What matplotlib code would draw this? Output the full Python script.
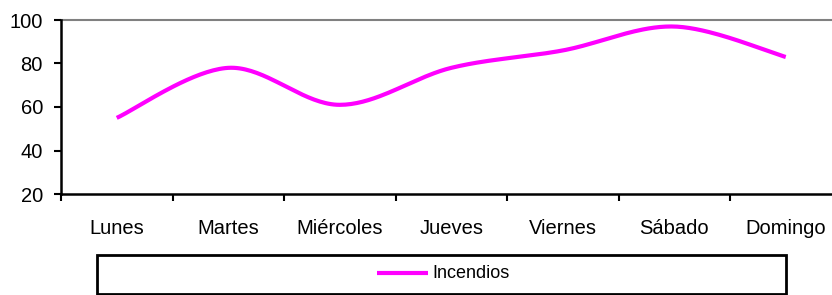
import matplotlib
matplotlib.use("Agg")
import matplotlib.pyplot as plt
from matplotlib.patches import Rectangle
from matplotlib.lines import Line2D
import numpy as np

dias = ["Lunes", "Martes", "Miércoles", "Jueves", "Viernes", "Sábado", "Domingo"]
incendios = [55, 78, 61, 78, 86, 97, 83]
y_ticks = [20, 40, 60, 80, 100]
serie = "Incendios"

plt.rcParams['font.family'] = ['Liberation Sans', 'DejaVu Sans']

W, H = 832, 295
fig = plt.figure(figsize=(W / 100, H / 100), dpi=100)
ax_left, ax_bottom_px, ax_top_px = 61, 194, 20
cat_w = 111.5
ax = fig.add_axes([ax_left / W, (H - ax_bottom_px) / H,
                   cat_w * len(dias) / W, (ax_bottom_px - ax_top_px) / H])


def smooth(xs, ys, n=40):
    pts = np.column_stack([xs, ys]).astype(float)
    ext = np.vstack([pts[0], pts, pts[-1]])
    out = []
    for i in range(len(pts) - 1):
        p0, p1, p2, p3 = ext[i], ext[i + 1], ext[i + 2], ext[i + 3]
        c1 = p1 + (p2 - p0) / 6
        c2 = p2 - (p3 - p1) / 6
        t = np.linspace(0, 1, n)[:, None]
        seg = ((1 - t) ** 3) * p1 + 3 * ((1 - t) ** 2) * t * c1 + 3 * (1 - t) * t ** 2 * c2 + t ** 3 * p2
        out.append(seg if i == 0 else seg[1:])
    s = np.vstack(out)
    return s[:, 0], s[:, 1]


xs = np.arange(len(dias)) + 0.5
sx, sy = smooth(xs, incendios)
ax.plot(sx, sy, color='#FF00FF', lw=3.0, solid_capstyle='butt', clip_on=False)

fs = 14.5
ax.set_xlim(0, len(dias))
ax.set_ylim(20, 100)
ax.set_yticks(y_ticks)
ax.set_yticklabels([str(v) for v in y_ticks], fontsize=fs)
ax.set_xticks(np.arange(len(dias) + 1))
ax.set_xticklabels([])
ax.set_xticks(xs, minor=True)
ax.set_xticklabels(dias, minor=True, fontsize=fs)
ax.tick_params(axis='x', which='major', direction='out', length=5, width=1.5, color='black')
ax.tick_params(axis='x', which='minor', length=0, pad=18)
ax.tick_params(axis='y', direction='out', length=5, width=1.5, pad=8)

for s in ['top', 'right']:
    ax.spines[s].set_visible(False)
for s in ['left', 'bottom']:
    ax.spines[s].set_linewidth(1.8)
    ax.spines[s].set_color('black')
ax.axhline(100, color='#808080', lw=1.5, clip_on=False, zorder=1)

# legend box
lx0, lx1, ly0, ly1 = 97, 786, 255, 294
fig.add_artist(Rectangle((lx0 / W, (H - ly1) / H), (lx1 - lx0) / W, (ly1 - ly0) / H,
                         transform=fig.transFigure, facecolor='white',
                         edgecolor='black', lw=2))
ly = (H - 273) / H
fig.add_artist(Line2D([377 / W, 428 / W], [ly, ly], transform=fig.transFigure,
                      color='#FF00FF', lw=3.0, solid_capstyle='butt'))
fig.text(432 / W, ly, serie, fontsize=13, va='center', ha='left',
         family=['Liberation Sans Narrow', 'Liberation Sans', 'DejaVu Sans'])

fig.savefig("out.png", dpi=100)
